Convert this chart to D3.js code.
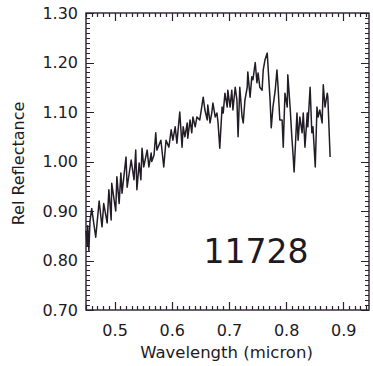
<!DOCTYPE html>
<html>
<head>
<meta charset="utf-8">
<script src="https://cdn.jsdelivr.net/npm/d3@7"></script>
<style>
  html, body { margin: 0; padding: 0; background: #fff; }
  svg { display: block; }
  text { font-family: "DejaVu Sans", sans-serif; fill: #1e1a22; }
</style>
</head>
<body>
<svg id="chart" width="373" height="366"></svg>
<script>
// ---- data ----
const wavelength = [
  0.450, 0.452, 0.453, 0.455, 0.457, 0.460, 0.467, 0.473, 0.478, 0.481,
  0.487, 0.490, 0.494, 0.495, 0.502, 0.504, 0.508, 0.511, 0.513, 0.520,
  0.522, 0.529, 0.534, 0.537, 0.539, 0.543, 0.546, 0.548, 0.551, 0.557,
  0.560, 0.564, 0.565, 0.569, 0.572, 0.574, 0.581, 0.586, 0.590, 0.595,
  0.599, 0.602, 0.606, 0.609, 0.614, 0.618, 0.620, 0.623, 0.627, 0.628,
  0.632, 0.635, 0.637, 0.641, 0.644, 0.649, 0.655, 0.658, 0.662, 0.663,
  0.667, 0.670, 0.672, 0.676, 0.679, 0.681, 0.684, 0.688, 0.690, 0.693,
  0.697, 0.698, 0.702, 0.705, 0.707, 0.711, 0.714, 0.716, 0.719, 0.723,
  0.725, 0.728, 0.732, 0.733, 0.737, 0.740, 0.742, 0.746, 0.749, 0.751,
  0.754, 0.758, 0.760, 0.763, 0.767, 0.768, 0.772, 0.774, 0.777, 0.781,
  0.784, 0.786, 0.789, 0.793, 0.795, 0.798, 0.802, 0.803, 0.807, 0.810,
  0.812, 0.814, 0.819, 0.821, 0.824, 0.828, 0.830, 0.833, 0.837, 0.838,
  0.842, 0.845, 0.847, 0.851, 0.854, 0.856, 0.859, 0.863, 0.865, 0.868,
  0.872, 0.873, 0.877
];
const reflectance = [
  0.860, 0.830, 0.870, 0.820, 0.880, 0.905, 0.847, 0.920, 0.868, 0.915,
  0.876, 0.943, 0.882, 0.956, 0.900, 0.969, 0.915, 0.977, 0.936, 1.009,
  0.948, 1.003, 0.963, 1.023, 0.943, 0.997, 0.963, 1.027, 0.989, 1.023,
  0.989, 1.017, 1.000, 1.013, 1.058, 1.023, 1.043, 0.989, 1.043, 1.029,
  1.064, 1.043, 1.070, 1.037, 1.100, 1.029, 1.070, 1.050, 1.078, 1.047,
  1.084, 1.058, 1.090, 1.070, 1.090, 1.084, 1.130, 1.104, 1.084, 1.114,
  1.078, 1.098, 1.118, 1.090, 1.098, 1.078, 1.027, 1.110, 1.098, 1.138,
  1.110, 1.144, 1.110, 1.144, 1.104, 1.150, 1.124, 1.050, 1.150, 1.090,
  1.078, 1.124, 1.150, 1.181, 1.130, 1.171, 1.165, 1.200, 1.159, 1.179,
  1.150, 1.144, 1.185, 1.205, 1.219, 1.200, 1.124, 1.068, 1.110, 1.144,
  1.185, 1.150, 1.084, 1.084, 1.029, 1.138, 1.110, 1.175, 1.110, 1.050,
  1.017, 0.979, 1.098, 1.043, 1.090, 1.058, 1.098, 1.029, 1.098, 1.070,
  1.150, 1.058, 1.070, 0.989, 1.110, 1.090, 1.104, 1.078, 1.155, 1.110,
  1.138, 1.130, 1.009
];
const xTicks = [0.5, 0.6, 0.7, 0.8, 0.9];
const yTicks = [0.70, 0.80, 0.90, 1.00, 1.10, 1.20, 1.30];
const xLabel = "Wavelength (micron)";
const yLabel = "Rel Reflectance";
const objectName = "11728";

// ---- layout ----
const svg = d3.select("#chart");
const mLeft = 86, mRight = 369, mTop = 13, mBottom = 310;
const frameColor = "#2a2030";

const x = d3.scaleLinear().domain([0.45, 0.945]).range([mLeft, mRight]);
const y = d3.scaleLinear().domain([0.70, 1.30]).range([mBottom, mTop]);

const xMinor = d3.range(45, 95).map(d => d / 100);
const yMinor = d3.range(70, 131).map(d => d / 100);
const isMajor = v => Math.abs(v * 10 - Math.round(v * 10)) < 1e-6;

// tick marks, inward on all four sides, as one path
let tickPath = "";
xMinor.forEach(d => {
  const len = isMajor(d) ? 8 : 4;
  const px = Math.round(x(d)) + 0.5;
  tickPath += `M${px},${mBottom}V${mBottom - len}`;
  tickPath += `M${px},${mTop}V${mTop + len}`;
});
yMinor.forEach(d => {
  const len = isMajor(d) ? 8 : 4;
  const py = Math.round(y(d)) + 0.5;
  tickPath += `M${mLeft},${py}H${mLeft + len}`;
  tickPath += `M${mRight},${py}H${mRight - len}`;
});
svg.append("path")
  .attr("d", tickPath)
  .attr("fill", "none")
  .attr("stroke", frameColor)
  .attr("stroke-width", 1.2);

// tick labels via axes (no lines)
const gx = svg.append("g").attr("transform", `translate(0,${mBottom})`)
  .call(d3.axisBottom(x).tickValues(xTicks).tickSize(0).tickPadding(15).tickFormat(d3.format(".1f")));
gx.select(".domain").remove();
gx.selectAll("text").attr("font-size", 16).attr("fill", "#1e1a22")
  .attr("font-family", "DejaVu Sans, sans-serif");

const gy = svg.append("g").attr("transform", `translate(${mLeft},0)`)
  .call(d3.axisLeft(y).tickValues(yTicks).tickSize(0).tickPadding(8).tickFormat(d3.format(".2f")));
gy.select(".domain").remove();
gy.selectAll("text").attr("font-size", 16).attr("fill", "#1e1a22")
  .attr("font-family", "DejaVu Sans, sans-serif");

// frame
svg.append("rect")
  .attr("x", mLeft).attr("y", mTop)
  .attr("width", mRight - mLeft).attr("height", mBottom - mTop)
  .attr("fill", "none").attr("stroke", frameColor).attr("stroke-width", 1.4);

// spectrum line
const pts = wavelength.map((w, i) => [w, reflectance[i]]);
svg.append("path")
  .datum(pts)
  .attr("fill", "none")
  .attr("stroke", "#221c26")
  .attr("stroke-width", 1.5)
  .attr("stroke-linejoin", "round")
  .attr("d", d3.line().x(d => x(d[0])).y(d => y(d[1])));

// annotation
svg.append("text")
  .attr("x", 256).attr("y", 263)
  .attr("text-anchor", "middle")
  .attr("font-size", 33)
  .text(objectName);

// axis titles
svg.append("text")
  .attr("x", (mLeft + mRight) / 2 - 1).attr("y", 358)
  .attr("text-anchor", "middle")
  .attr("font-size", 16.5)
  .text(xLabel);
svg.append("text")
  .attr("transform", `translate(24,${(mTop + mBottom) / 2 + 2}) rotate(-90)`)
  .attr("text-anchor", "middle")
  .attr("font-size", 16)
  .text(yLabel);
</script>
</body>
</html>
